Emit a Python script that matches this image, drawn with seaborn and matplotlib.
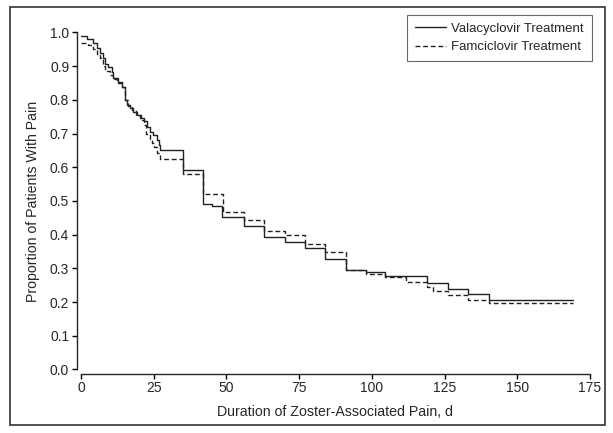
import matplotlib
matplotlib.use("Agg")
import matplotlib.pyplot as plt
import seaborn as sns
import pandas as pd
from matplotlib.patches import Rectangle

# Kaplan-Meier style step data (days, proportion with pain)
vala_days = [0, 2, 4, 5.4, 6.5, 7.7, 8.2, 9.4, 10.5, 11.1, 12.8, 14, 15.1, 15.7, 16.8,
             17.8, 19.2, 20.3, 21.5, 22.6, 23.7, 24.8, 26, 26.9, 27.2, 35, 42, 45,
             48.4, 56, 63, 70, 77, 84, 91, 98, 104.5, 119, 126.3, 133, 140.4, 169]
vala_prop = [0.99, 0.98, 0.968, 0.953, 0.938, 0.923, 0.906, 0.899, 0.884, 0.864, 0.854,
             0.838, 0.80, 0.785, 0.775, 0.765, 0.755, 0.745, 0.738, 0.72, 0.706, 0.696,
             0.681, 0.666, 0.651, 0.592, 0.491, 0.485, 0.451, 0.426, 0.392, 0.377,
             0.361, 0.327, 0.295, 0.29, 0.277, 0.258, 0.239, 0.223, 0.206, 0.206]

famc_days = [0, 2.5, 4, 5.5, 6.5, 7.7, 8.2, 9.9, 11.1, 12.5, 14, 15.1, 16, 17.5, 19,
             20.5, 21.5, 22.5, 23.7, 24.5, 25.2, 26, 27.2, 35, 42, 48.7, 56, 63, 70,
             77, 84, 91, 98, 104.5, 111.7, 119, 121, 126.3, 133, 140.4, 169]
famc_prop = [0.97, 0.963, 0.95, 0.935, 0.925, 0.90, 0.885, 0.875, 0.862, 0.85, 0.838,
             0.80, 0.782, 0.77, 0.755, 0.74, 0.725, 0.70, 0.685, 0.672, 0.66, 0.641,
             0.624, 0.579, 0.52, 0.468, 0.444, 0.411, 0.399, 0.371, 0.348, 0.295,
             0.283, 0.275, 0.261, 0.245, 0.234, 0.221, 0.206, 0.198, 0.198]

x_ticks = [0, 25, 50, 75, 100, 125, 150, 175]
y_ticks = [0.0, 0.1, 0.2, 0.3, 0.4, 0.5, 0.6, 0.7, 0.8, 0.9, 1.0]

sns.set_style("ticks")
plt.rcParams['font.family'] = ['Liberation Sans', 'DejaVu Sans']
plt.rcParams['axes.linewidth'] = 1.0

fig = plt.figure(figsize=(6.13, 4.33), dpi=100)
ax = fig.add_axes([0.1321, 0.1467, 0.8303, 0.7783])

vala = pd.DataFrame({'days': vala_days, 'prop': vala_prop})
famc = pd.DataFrame({'days': famc_days, 'prop': famc_prop})

sns.lineplot(data=vala, x='days', y='prop', ax=ax, drawstyle='steps-post',
             color='#222222', linewidth=1.0, label='Valacyclovir Treatment')
sns.lineplot(data=famc, x='days', y='prop', ax=ax, drawstyle='steps-post',
             color='#222222', linewidth=1.0, linestyle=(0, (3.5, 2)),
             label='Famciclovir Treatment')

ax.set_xlim(0, 175)
ax.set_ylim(0, 1.0)
ax.set_xticks(x_ticks)
ax.set_yticks(y_ticks)
ax.set_yticklabels([f"{v:.1f}" for v in y_ticks])
ax.tick_params(labelsize=10, length=3.5, width=1.0, color='black', pad=2)
ax.set_xlabel('Duration of Zoster-Associated Pain, d', fontsize=10.2, labelpad=7)
ax.set_ylabel('Proportion of Patients With Pain', fontsize=10.2, labelpad=7)
sns.despine(ax=ax, offset=3)

leg = ax.legend(loc='upper right', bbox_to_anchor=(1.004, 1.052), borderaxespad=0,
                fontsize=9.5, frameon=True, fancybox=False, edgecolor='#444444',
                handlelength=2.4, handletextpad=0.4, labelspacing=0.45,
                borderpad=0.6)
leg.get_frame().set_linewidth(0.8)

# outer frame around the whole figure
fig.patches.append(Rectangle((10 / 613, 8 / 433), 595 / 613, 418 / 433,
                             transform=fig.transFigure, fill=False,
                             edgecolor='#333333', linewidth=1.2))

fig.savefig('out.png', dpi=100)
